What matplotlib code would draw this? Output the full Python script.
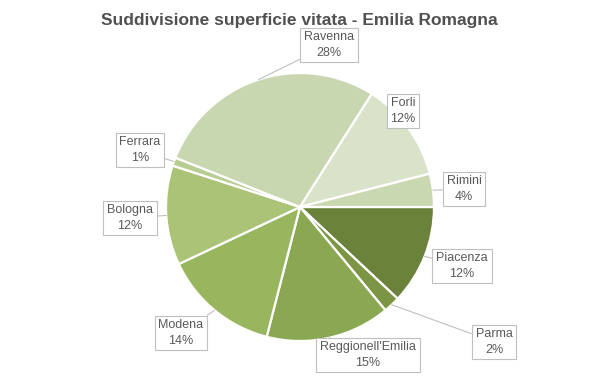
import numpy as np
import matplotlib.pyplot as plt

# dati
province = ["Piacenza", "Parma", "Reggionell'Emilia", "Modena", "Bologna",
            "Ferrara", "Ravenna", "Forlì", "Rimini"]
valori = [12, 2, 15, 14, 12, 1, 28, 12, 4]
colori = ["#6A823A", "#7B9545", "#8AA751", "#98B65D", "#AAC376",
          "#B8CD92", "#C9D7B1", "#D9E3C9", "#CAD8B2"]
etichette = ["Piacenza", "Parma", "Reggionell'Emilia", "Modena", "Bologna",
             "Ferrara", "Ravenna", "Forli", "Rimini"]
# posizione delle etichette (coord. del grafico, raggio = 1)
pos_etichette = [(1.209, -0.44), (1.448, -1.007), (0.507, -1.104), (-0.888, -0.94),
                 (-1.269, -0.082), (-1.194, 0.425), (0.216, 1.209), (0.769, 0.716),
                 (1.224, 0.134)]

fig = plt.figure(figsize=(5.99, 3.78), dpi=100)
ax = fig.add_axes([(300 - 134) / 599, (378 - 207 - 134) / 378, 268 / 599, 268 / 378])

wedges, _ = ax.pie(valori, colors=colori, startangle=0, counterclock=False, radius=1,
                   wedgeprops=dict(edgecolor="white", linewidth=1.6))
ax.set_xlim(-1, 1)
ax.set_ylim(-1, 1)
ax.set_aspect("auto")

tot = sum(valori)
for w, nome, v, (lx, ly) in zip(wedges, etichette, valori, pos_etichette):
    ang = np.deg2rad((w.theta1 + w.theta2) / 2)
    px, py = np.cos(ang), np.sin(ang)
    ax.annotate(f"{nome}\n{round(100 * v / tot)}%", xy=(px, py), xytext=(lx, ly),
                ha="center", va="center", fontsize=9, color="#595959",
                family=["Liberation Sans", "DejaVu Sans"], linespacing=1.35,
                bbox=dict(boxstyle="square,pad=0.3", fc="white", ec="#BFBFBF", lw=0.8),
                arrowprops=dict(arrowstyle="-", color="#BFBFBF", lw=0.8,
                                shrinkA=0, shrinkB=0),
                annotation_clip=False)

fig.text(0.5, 1 - 20 / 378, "Suddivisione superficie vitata - Emilia Romagna",
         ha="center", va="center", fontsize=12.5, fontweight="bold", color="#505050",
         family=["Liberation Sans", "DejaVu Sans"])

fig.savefig("out.png", dpi=100)
